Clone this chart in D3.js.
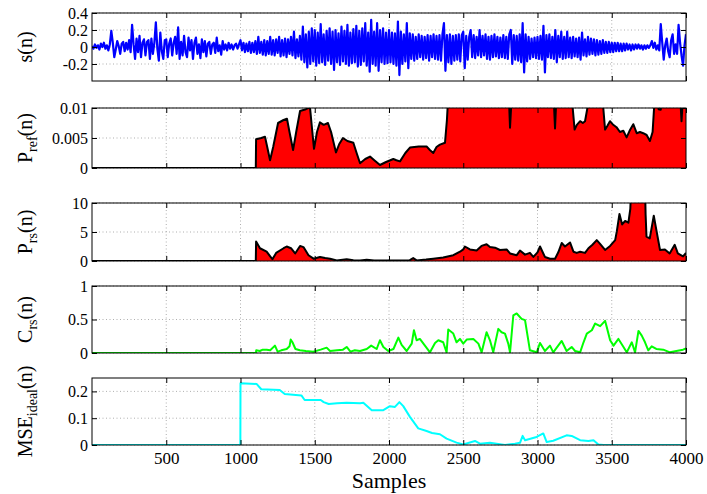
<!DOCTYPE html>
<html>
<head>
<meta charset="utf-8">
<script src="https://cdn.jsdelivr.net/npm/d3@7"></script>
<style>
  body { margin: 0; background: #fff; }
  text { font-family: "Liberation Serif", "Times New Roman", serif; fill: #000; }
</style>
</head>
<body>
<svg id="chart" width="707" height="494"></svg>
<script>
// s(n), one value every 10 samples
var sStep = 10;
var sVals = [
  0.01,-0.02,0.03,-0.01,0.02,-0.03,0.04,0.00,0.05,-0.02, 0.02,-0.04,0.03,0.19,0.05,-0.12,-0.03,0.07,0.01,-0.08,
  0.04,0.06,-0.05,0.05,-0.03,0.08,-0.06,0.26,0.03,-0.14, 0.10,-0.06,0.13,-0.12,0.05,0.09,-0.10,0.06,0.08,-0.14,
  0.10,-0.08,0.05,0.29,-0.02,-0.16,0.17,-0.05,-0.14,0.08, 0.09,-0.12,0.04,0.10,-0.10,0.05,0.12,-0.08,0.23,-0.14,
  0.06,-0.10,0.13,-0.06,-0.12,0.11,-0.04,0.08,-0.14,0.05, 0.11,-0.08,0.03,-0.13,0.09,-0.06,0.07,-0.11,0.04,0.06,
  -0.08,0.03,0.05,-0.07,0.11,-0.05,0.02,-0.09,0.07,-0.03, 0.03,-0.04,0.05,-0.02,0.03,-0.03,0.02,0.04,-0.02,0.03,
  0.08,-0.04,0.05,-0.06,0.04,-0.05,0.06,-0.07,0.05,-0.06, 0.07,-0.08,0.12,-0.07,0.06,-0.09,0.08,-0.10,0.07,-0.08,
  0.12,-0.09,0.08,-0.10,0.09,-0.07,0.12,-0.11,0.08,-0.10, 0.10,-0.12,0.09,-0.08,0.12,-0.10,0.18,-0.13,0.09,-0.11,
  0.13,-0.15,0.24,-0.18,0.15,-0.24,0.18,-0.20,0.22,-0.17, 0.20,-0.22,0.17,-0.19,0.27,-0.18,0.15,-0.21,0.19,-0.16,
  0.22,-0.20,0.18,-0.27,0.20,-0.18,0.16,-0.21,0.24,-0.17, 0.19,-0.20,0.26,-0.22,0.17,-0.19,0.21,-0.18,0.25,-0.23,
  0.19,-0.21,0.22,-0.17,0.28,-0.22,0.17,-0.29,0.32,-0.20, 0.18,-0.22,0.28,-0.28,0.20,-0.18,0.22,-0.20,0.17,-0.19,
  0.20,-0.18,0.17,-0.20,0.16,-0.22,0.30,-0.33,0.18,-0.20, 0.15,-0.17,0.28,-0.25,0.16,-0.14,0.15,-0.16,0.12,-0.14,
  0.15,-0.12,0.13,-0.15,0.12,-0.13,0.14,-0.16,0.13,-0.12, 0.15,-0.14,0.13,-0.15,0.14,-0.16,0.15,0.28,-0.28,0.14,
  -0.18,0.15,-0.20,0.13,-0.16,0.14,-0.15,0.15,-0.17,0.14, 0.18,-0.25,0.13,-0.15,0.12,0.20,-0.12,0.14,-0.13,0.12,
  -0.10,0.20,-0.12,0.13,-0.10,0.15,-0.14,0.12,-0.15,0.13, -0.12,0.15,-0.11,0.12,-0.13,0.11,-0.12,0.14,-0.13,0.12,
  -0.14,0.15,0.20,-0.20,0.14,-0.15,0.13,-0.16,0.15,-0.18, 0.28,-0.30,0.15,-0.17,0.12,-0.14,0.10,-0.12,0.11,-0.13,
  0.12,-0.14,0.13,-0.15,0.25,-0.30,0.14,-0.12,0.15,-0.13, 0.12,-0.14,0.20,-0.18,0.13,-0.12,0.18,-0.14,0.12,-0.13,
  0.18,-0.12,0.11,-0.13,0.12,-0.11,0.10,-0.12,0.11,-0.15, 0.17,-0.10,0.09,-0.11,0.12,-0.09,0.10,-0.08,0.09,-0.10,
  0.08,-0.09,0.07,-0.08,0.08,-0.07,0.06,-0.07,0.06,-0.06, 0.05,-0.06,0.05,-0.05,0.05,-0.05,0.04,-0.05,0.04,-0.04,
  0.04,-0.03,0.03,-0.04,0.03,-0.03,0.03,-0.02,0.03,-0.02, 0.02,-0.03,0.02,-0.02,0.02,-0.01,0.02,0.07,-0.01,0.05,
  -0.03,0.02,-0.04,0.27,0.05,-0.15,0.02,0.10,-0.05,-0.12, 0.08,0.15,-0.08,0.03,-0.08,0.26,0.05,-0.10,-0.22,0.02,
  0.15
];

// P_ref(n): sample index / value (values over 0.01 are off the chart)
var refN = [0,1103,1105,1140,1165,1180,1199,1220,1253,1290,1313,1330,1354,1375,1401,1440,1468,1480,1495,1515,
  1535,1560,1589,1610,1643,1665,1690,1720,1760,1782,1805,1840,1872,1905,1939,1980,2029,2050,2074,2110,
  2141,2200,2253,2275,2298,2320,2343,2377,2390,2399,2410,2800,2810,2815,2822,2830,3100,3112,3118,3124,
  3135,3225,3237,3250,3265,3287,3305,3320,3336,3345,3430,3443,3455,3470,3488,3510,3532,3555,3578,3600,
  3620,3645,3668,3690,3712,3735,3757,3775,3785,3792,3810,3815,3830,3836,3960,3965,3970,3975,3980,4000];
var refV = [0,0,0.0048,0.005,0.0052,0.0035,0.0013,0.0035,0.0075,0.008,0.0082,0.006,0.003,0.006,0.0095,0.0098,0.0101,0.007,0.0032,0.006,
  0.0076,0.0072,0.0075,0.006,0.0026,0.004,0.005,0.0045,0.0042,0.0025,0.0008,0.0015,0.0019,0.0012,0.0005,0.001,0.0015,0.0013,0.0011,0.0025,
  0.0034,0.0036,0.0036,0.003,0.0025,0.0035,0.0039,0.0042,0.008,0.012,0.02,0.02,0.01,0.0067,0.01,0.02,0.02,0.01,0.0066,0.01,
  0.02,0.02,0.01,0.0064,0.0072,0.0078,0.0075,0.0078,0.01,0.02,0.02,0.01,0.0064,0.007,0.0078,0.0072,0.0068,0.006,0.0062,0.0051,
  0.0062,0.0073,0.0058,0.006,0.0058,0.0055,0.0045,0.006,0.01,0.02,0.02,0.0098,0.0097,0.02,0.02,0.01,0.0078,0.01,0.02,0.02];

// P_rs(n)
var rsN = [0,1103,1105,1131,1176,1200,1215,1240,1290,1311,1340,1368,1401,1424,1458,1492,1535,1570,1603,1648,
  1715,1760,1805,1850,1900,1960,2050,2140,2163,2186,2250,2298,2365,2433,2478,2500,2511,2545,2590,2623,
  2657,2680,2714,2747,2792,2815,2860,2882,2916,2949,2972,3000,3017,3050,3084,3118,3140,3163,3185,3219,
  3242,3264,3287,3320,3343,3370,3399,3420,3455,3489,3523,3534,3552,3570,3590,3612,3625,3632,3723,3728,
  3734,3756,3783,3800,3825,3858,3890,3924,3945,3980,4000];
var rsV = [0,0,3.35,2.2,1.6,0.8,0.3,1.4,2.2,2.5,2.2,1.3,2.6,2.4,1.0,0.4,0.7,0.5,0.4,0.1,
  0.3,0.15,0.1,0.2,0.1,0.08,0.1,0.15,0.5,0.1,0.25,0.4,0.6,1.0,1.6,2.0,2.5,2.0,1.8,2.6,
  2.9,2.4,2.3,1.9,2.0,1.3,1.0,1.8,1.1,1.4,0.7,1.5,2.5,0.7,0.4,0.4,1.5,3.1,2.5,3.2,
  1.6,1.4,1.6,1.4,2.2,2.8,3.6,3.0,1.9,2.6,3.6,5.1,8.1,6.3,6.9,6.6,9.0,14,14,8,
  4.2,3.9,7.8,5.4,1.9,2.0,1.3,2.8,1.3,0.8,1.4];

// C_rs(n)
var crsN = [0,1104,1106,1130,1150,1176,1200,1232,1250,1275,1311,1330,1338,1350,1370,1400,1440,1490,1540,1580,
  1603,1650,1690,1715,1740,1770,1805,1850,1880,1917,1939,1962,1995,2030,2063,2085,2119,2153,2168,2186,
  2208,2242,2276,2310,2332,2365,2388,2399,2433,2455,2478,2500,2523,2568,2602,2624,2657,2680,2702,2736,
  2758,2781,2803,2815,2837,2860,2893,2916,2949,2995,3017,3050,3084,3106,3163,3196,3230,3253,3287,3310,
  3332,3366,3388,3422,3455,3466,3489,3512,3545,3579,3601,3635,3657,3680,3702,3724,3746,3769,3800,3847,
  3892,3935,3980,4000];
var crsV = [0,0,0.04,0.03,0.05,0.05,0.04,0.11,0.02,0.04,0.06,0.1,0.2,0.16,0.06,0.04,0.03,0.02,0.05,0.08,
  0.03,0.04,0.05,0.09,0.02,0.04,0.03,0.06,0.11,0.06,0.19,0.09,0.03,0.06,0.23,0.12,0.03,0.14,0.34,0.19,
  0.21,0.11,0.01,0.15,0.19,0.16,0.01,0.35,0.29,0.16,0.21,0.14,0.2,0.21,0.14,0.01,0.31,0.19,0.01,0.36,
  0.31,0.29,0.14,0.01,0.56,0.59,0.51,0.49,0.04,0.01,0.15,0.03,0.11,0.01,0.18,0.03,0.09,0.03,0.01,0.16,
  0.29,0.34,0.44,0.40,0.48,0.39,0.19,0.11,0.21,0.09,0.01,0.16,0.01,0.33,0.26,0.16,0.04,0.1,0.06,0.05,
  0.01,0.03,0.05,0.07];

// MSE_ideal(n)
var mseN = [0,999,1000,1108,1140,1264,1298,1410,1432,1540,1560,1594,1650,1715,1805,1827,1884,1962,2006,2040,
  2070,2096,2141,2197,2253,2290,2343,2388,2455,2500,2579,2612,2680,2747,2781,2848,2882,2900,2916,2994,
  3039,3062,3106,3196,3230,3287,3343,3377,3410,3444,4000];
var mseV = [0,0,0.23,0.228,0.208,0.205,0.19,0.185,0.168,0.168,0.16,0.153,0.156,0.158,0.156,0.158,0.13,0.13,0.145,0.142,
  0.16,0.145,0.105,0.062,0.052,0.045,0.04,0.024,0.009,0.002,0.015,0.005,0.008,0.003,0,0.005,0.008,0.034,0.018,0.03,
  0.043,0.011,0.016,0.036,0.034,0.018,0.015,0.018,0.002,0,0];

var xTicks = [500,1000,1500,2000,2500,3000,3500,4000];

var svg = d3.select('#chart');
var x = d3.scaleLinear().domain([0,4000]).range([92,686]);

function plainFmt(d) { return String(d); }

var panels = [
  {top:13, bottom:81, domain:[-0.4,0.4], ticks:[-0.2,0,0.2,0.4], fmt:plainFmt,
   label:['s(n)'], kind:'line', color:'#0000ff', width:2.2,
   xs:sVals.map(function(d,i){return i*sStep;}), ys:sVals},
  {top:108, bottom:168, domain:[0,0.01], ticks:[0,0.005,0.01], fmt:plainFmt,
   label:['P','ref','(n)'], kind:'area', xs:refN, ys:refV},
  {top:203, bottom:261, domain:[0,10], ticks:[0,5,10], fmt:plainFmt,
   label:['P','rs','(n)'], kind:'area', xs:rsN, ys:rsV},
  {top:286, bottom:353, domain:[0,1], ticks:[0,0.5,1], fmt:plainFmt,
   label:['C','rs','(n)'], kind:'line', color:'#00ff00', width:2, xs:crsN, ys:crsV},
  {top:378, bottom:445, domain:[0,0.25], ticks:[0,0.1,0.2], fmt:plainFmt,
   label:['MSE','ideal','(n)'], kind:'line', color:'#00ffff', width:2, xs:mseN, ys:mseV}
];

panels.forEach(function(p, pi) {
  var y = d3.scaleLinear().domain(p.domain).range([p.bottom, p.top]);
  var g = svg.append('g');
  var clipId = 'clip' + pi;
  svg.append('clipPath').attr('id', clipId)
    .append('rect').attr('x', x(0)).attr('y', p.top).attr('width', x(4000)-x(0)).attr('height', p.bottom-p.top);

  // grid
  g.selectAll('.vgrid').data(xTicks.slice(0, -1)).enter().append('line')
    .attr('x1', function(d){return x(d);}).attr('x2', function(d){return x(d);})
    .attr('y1', p.top).attr('y2', p.bottom)
    .attr('stroke', '#9a9a9a').attr('stroke-width', 0.8).attr('stroke-dasharray', '1,2.5');
  g.selectAll('.hgrid').data(p.ticks).enter().append('line')
    .attr('x1', x(0)).attr('x2', x(4000))
    .attr('y1', function(d){return y(d);}).attr('y2', function(d){return y(d);})
    .attr('stroke', '#9a9a9a').attr('stroke-width', 0.8).attr('stroke-dasharray', '1,2.5');

  var pts = p.xs.map(function(d,i){return [d, p.ys[i]];});
  var plot = g.append('g').attr('clip-path', 'url(#' + clipId + ')');
  var line = d3.line().x(function(d){return x(d[0]);}).y(function(d){return y(d[1]);});
  if (p.kind == 'area') {
    var area = d3.area().x(function(d){return x(d[0]);}).y0(y(0)).y1(function(d){return y(d[1]);});
    plot.append('path').datum(pts).attr('d', area).attr('fill', '#ff0000');
    plot.append('path').datum(pts).attr('d', line).attr('fill', 'none')
      .attr('stroke', '#000').attr('stroke-width', 2).attr('stroke-linejoin', 'round');
  } else {
    plot.append('path').datum(pts).attr('d', line).attr('fill', 'none')
      .attr('stroke', p.color).attr('stroke-width', p.width).attr('stroke-linejoin', 'round');
  }

  // border
  g.append('rect').attr('x', x(0)).attr('y', p.top).attr('width', x(4000)-x(0)).attr('height', p.bottom-p.top)
    .attr('fill', 'none').attr('stroke', '#000').attr('stroke-width', 1);

  // axes, ticks pointing in
  var left = g.append('g').attr('transform', 'translate(' + x(0) + ',0)')
    .call(d3.axisLeft(y).tickValues(p.ticks).tickFormat(p.fmt).tickSizeInner(-5).tickSizeOuter(0).tickPadding(4));
  left.select('.domain').remove();
  left.selectAll('text').style('font-size', '16px').attr('font-family', null);
  var right = g.append('g').attr('transform', 'translate(' + x(4000) + ',0)')
    .call(d3.axisRight(y).tickValues(p.ticks).tickFormat('').tickSizeInner(-5).tickSizeOuter(0));
  right.select('.domain').remove();
  var top = g.append('g').attr('transform', 'translate(0,' + p.top + ')')
    .call(d3.axisTop(x).tickValues(xTicks).tickFormat('').tickSizeInner(-5).tickSizeOuter(0));
  top.select('.domain').remove();
  var bottom = g.append('g').attr('transform', 'translate(0,' + p.bottom + ')')
    .call(d3.axisBottom(x).tickValues(xTicks).tickFormat(pi == panels.length-1 ? plainFmt : '')
      .tickSizeInner(-5).tickSizeOuter(0).tickPadding(7));
  bottom.select('.domain').remove();
  bottom.selectAll('text').style('font-size', '17px').attr('font-family', null);
  svg.selectAll('.tick line').attr('stroke', '#000');

  // y label, rotated, with subscript
  var lab = g.append('text')
    .attr('transform', 'translate(32,' + ((p.top + p.bottom) / 2) + ') rotate(-90)')
    .attr('text-anchor', 'middle').style('font-size', '20px');
  if (p.label.length == 1) {
    lab.text(p.label[0]);
  } else {
    lab.append('tspan').text(p.label[0]);
    lab.append('tspan').attr('dy', 5).style('font-size', '14px').text(p.label[1]);
    lab.append('tspan').attr('dy', -5).text(p.label[2]);
  }
});

svg.append('text').attr('x', 389).attr('y', 488).attr('text-anchor', 'middle')
  .style('font-size', '22px').text('Samples');
</script>
</body>
</html>
